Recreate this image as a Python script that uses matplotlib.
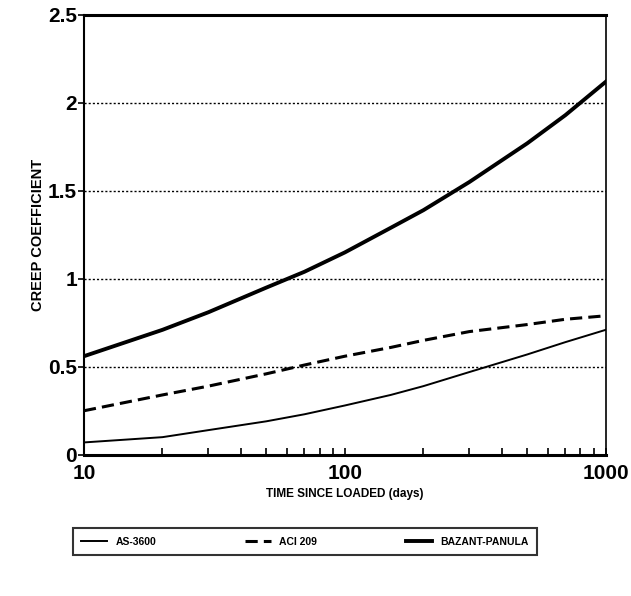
import matplotlib
matplotlib.use("Agg")
import matplotlib.pyplot as plt
from matplotlib.ticker import FixedLocator, NullFormatter, FixedFormatter

plt.rcParams['font.family'] = ['Liberation Sans', 'DejaVu Sans']

days = [10, 20, 30, 50, 70, 100, 150, 200, 300, 500, 700, 1000]
as3600 = [0.07, 0.10, 0.14, 0.19, 0.23, 0.28, 0.34, 0.39, 0.47, 0.57, 0.64, 0.71]
aci209 = [0.25, 0.34, 0.39, 0.46, 0.51, 0.56, 0.61, 0.65, 0.70, 0.74, 0.77, 0.79]
bazant = [0.56, 0.71, 0.81, 0.95, 1.04, 1.15, 1.29, 1.39, 1.55, 1.77, 1.93, 2.12]

yticks = [0, 0.5, 1, 1.5, 2, 2.5]
ylabels = ['0', '0.5', '1', '1.5', '2', '2.5']
xticks = [10, 100, 1000]
xlabels = ['10', '100', '1000']

fig = plt.figure(figsize=(6.31, 5.96), dpi=100)
ax = fig.add_axes([0.133, 0.237, 0.827, 0.738])

ax.plot(days, as3600, color='black', lw=1.4, label='AS-3600')
ax.plot(days, aci209, color='black', lw=2.2, ls=(0, (4, 2)), label='ACI 209')
ax.plot(days, bazant, color='black', lw=2.8, label='BAZANT-PANULA')

ax.set_xscale('log')
ax.set_xlim(10, 1000)
ax.set_ylim(0, 2.5)
ax.xaxis.set_major_locator(FixedLocator(xticks))
ax.xaxis.set_major_formatter(FixedFormatter(xlabels))
ax.xaxis.set_minor_locator(FixedLocator([20, 30, 40, 50, 60, 70, 80, 90,
                                         200, 300, 400, 500, 600, 700, 800, 900]))
ax.xaxis.set_minor_formatter(NullFormatter())
ax.set_yticks(yticks)
ax.set_yticklabels(ylabels)

for y in [0.5, 1, 1.5, 2]:
    ax.axhline(y, color='black', lw=1.0, ls=(0, (1.5, 1.5)), zorder=0)

ax.tick_params(axis='x', which='both', direction='in', length=5, width=1.2,
               labelsize=15, pad=7)
ax.tick_params(axis='y', which='major', direction='out', length=4, width=1.2,
               labelsize=15, pad=1)
for lab in ax.get_xticklabels() + ax.get_yticklabels():
    lab.set_fontweight('bold')

ax.spines['top'].set_linewidth(2.2)
ax.spines['bottom'].set_linewidth(2.2)
ax.spines['left'].set_linewidth(1.5)
ax.spines['right'].set_linewidth(1.2)

ax.set_xlabel('TIME SINCE LOADED (days)', fontsize=8.5, fontweight='bold', labelpad=3)
ax.set_ylabel('CREEP COEFFICIENT', fontsize=10.5, fontweight='bold', labelpad=2)

leg = fig.legend(loc='center', bbox_to_anchor=(0.483, 0.091), ncol=3,
                 frameon=True, fancybox=False, edgecolor='black',
                 handlelength=2.5, columnspacing=8.5, borderpad=0.8,
                 prop={'weight': 'bold', 'size': 7.5})
leg.get_frame().set_linewidth(1.5)

fig.savefig('out.png', dpi=100, facecolor='white')
